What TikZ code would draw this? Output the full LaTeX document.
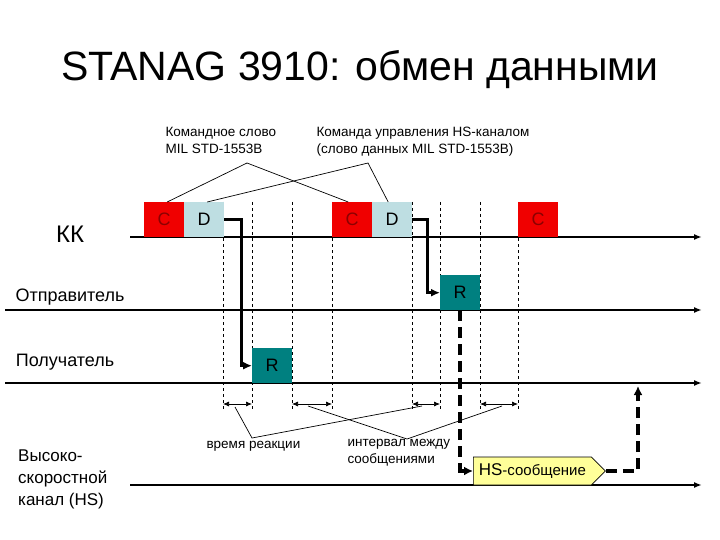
\documentclass[tikz,border=0pt]{standalone}
\usepackage{fontspec}
\setmainfont{Liberation Sans}
\usetikzlibrary{arrows.meta,shapes.symbols,calc}
\definecolor{cred}{RGB}{240,0,0}
\definecolor{cblue}{RGB}{190,222,226}
\definecolor{cteal}{RGB}{0,128,128}
\definecolor{cyel}{RGB}{255,255,153}
\begin{document}
\begin{tikzpicture}[x=1pt,y=-1pt,
  box/.style={draw=none,minimum width=40pt,minimum height=35pt,anchor=north west,inner sep=0,font=\fontsize{18}{18}\selectfont},
  cbox/.style={box,fill=cred,text=red!55!black},
  dbox/.style={box,fill=cblue},
  rbox/.style={box,fill=cteal,text=black},
  bus/.style={line width=1.8pt,-{Latex[length=8pt,width=6pt]}},
  vd/.style={dashed,line width=0.7pt},
  sig/.style={line width=2.6pt,-{Latex[length=9pt,width=8pt]}},
  hs/.style={line width=3.5pt,dash pattern=on 11pt off 6pt,-{Latex[length=9pt,width=9pt]}},
  dim/.style={line width=0.7pt,{Latex[length=6pt,width=5pt]}-{Latex[length=6pt,width=5pt]}},
  lbl/.style={font=\fontsize{13.5}{17}\selectfont,align=left},
  thin/.style={line width=0.7pt}]
\useasboundingbox (0,0) rectangle (720,540);
\node (title) at (360,70) {\fontsize{41}{41}\selectfont STANAG 3910: обмен данными};
\node (kk) at (70,234) {\fontsize{24}{24}\selectfont КК};
\node (snd) at (70,297) {\fontsize{18}{18}\selectfont Отправитель};
\node (rcv) at (65,362) {\fontsize{18}{18}\selectfont Получатель};
\node[anchor=north west,align=left,font=\fontsize{17}{22}\selectfont,inner sep=0] (hsl) at (18,450) {Высоко-\\скоростной\\канал (HS)};
% dashed verticals
\foreach \x in {223,252,292,332,412,440,480,518} \draw[vd] (\x,202) -- (\x,410);
% buses
\coordinate (k0) at (130,237); \coordinate (k1) at (702,237);
\coordinate (s0) at (5,310); \coordinate (s1) at (702,310);
\coordinate (r0) at (5,383); \coordinate (r1) at (702,383);
\coordinate (h0) at (130,485); \coordinate (h1) at (702,485);
\draw[bus] (k0) -- (k1);
\draw[bus] (s0) -- (s1);
\draw[bus] (r0) -- (r1);
\draw[bus] (h0) -- (h1);
% boxes
\node[cbox] (c1) at (144,202) {C};
\node[dbox] (d1) at (184,202) {D};
\node[cbox] (c2) at (332,202) {C};
\node[dbox] (d2) at (372,202) {D};
\node[cbox] (c3) at (518,202) {C};
\node[rbox] (rs) at (440,275) {R};
\node[rbox] (rr) at (252,348) {R};
% signals
\draw[sig] (d1.east) -- ++(17,0) |- (rr.west);
\draw[sig] (d2.east) -- ++(15,0) |- (rs.west);
% HS message
\node[signal,signal to=east,draw,thin,fill=cyel,minimum height=28pt,minimum width=132pt,anchor=west,inner sep=2pt,font=\fontsize{17}{17}\selectfont] (hsm) at (473,471) {HS\fontsize{15}{15}\selectfont-сообщение};
\coordinate (up) at (638,386);
\draw[hs] (rs.south) |- (hsm.west);
\draw[hs] (hsm.east) -| (up);
% dimension arrows
\foreach \a/\b in {223/252,292/332,412/440,480/518} \draw[dim] (\a,404) -- (\b,404);
% top labels
\node[lbl,anchor=north west] (lc) at (162,124) {Командное слово\\MIL STD-1553B};
\node[lbl,anchor=north west] (ld) at (313,124) {Команда управления HS-каналом\\(слово данных MIL STD-1553B)};
\coordinate (pc) at (247,163); \coordinate (pd) at (368,163);
\draw[thin] ($(c1.north)+(3,0)$) -- (pc) -- ($(c2.north)+(-4,0)$);
\draw[thin] ($(d1.north)+(3,0)$) -- (pd) -- ($(d2.north)+(-4,0)$);
% bottom labels
\node[lbl,anchor=north west] (lr) at (203,438) {время реакции};
\node[lbl,anchor=north west] (li) at (344,436) {интервал между\\сообщениями};
\coordinate (pr) at (252,438); \coordinate (pi) at (407,439);
\draw[thin] (235,407) -- (pr) -- (422,406);
\draw[thin] (308,406) -- (pi) -- (502,406);
\end{tikzpicture}
\end{document}
